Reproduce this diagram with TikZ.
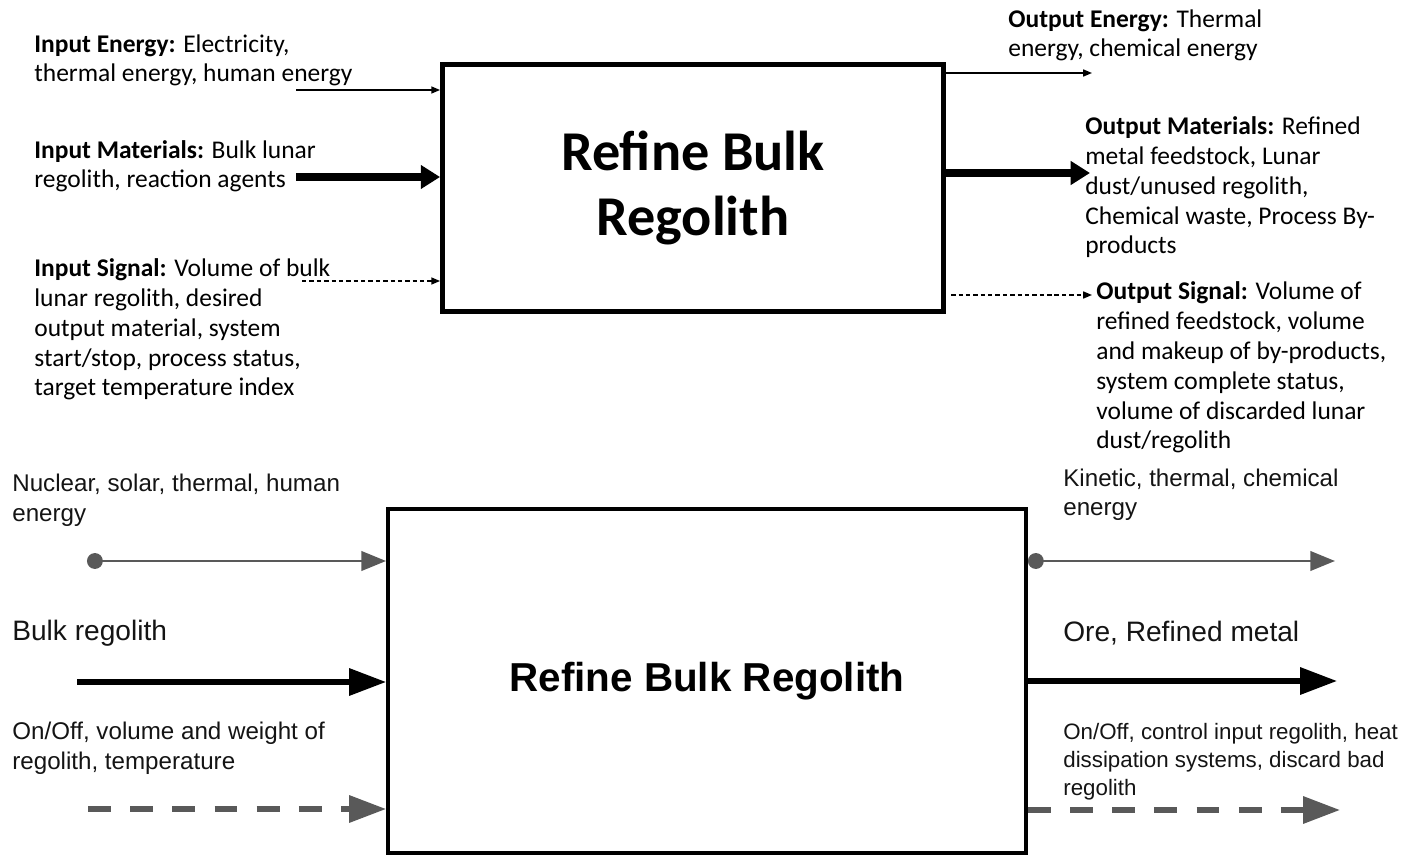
\documentclass[tikz,border=0pt]{standalone}
\usepackage{fontspec}
\setmainfont{Carlito}
\newfontfamily\arialfont{Liberation Sans}
\usepackage{tikz}
\usetikzlibrary{arrows.meta}

\begin{document}
\begin{tikzpicture}[x=0.02cm,y=-0.02cm]
	\tikzstyle{topbox}=[draw,line width=2.8pt,minimum width=10.02cm,minimum height=4.95cm,inner sep=0pt,align=center,font=\bfseries\fontsize{32}{37.5}\selectfont]
	\tikzstyle{botbox}=[draw,line width=2pt,minimum width=12.77cm,minimum height=6.89cm,inner sep=0pt,font=\arialfont\bfseries\fontsize{23}{28}\selectfont]
	\tikzstyle{toplabel}=[anchor=base west,align=left,inner sep=0pt,font=\fontsize{14.5}{17}\selectfont]
	\tikzstyle{botlabel}=[anchor=base west,align=left,inner sep=0pt,text=black!92,font=\arialfont\fontsize{13.75}{17}\selectfont]
	\tikzstyle{biglabel}=[botlabel,font=\arialfont\fontsize{16}{19}\selectfont]
	\tikzstyle{thinflow}=[line width=0.8pt,-{Triangle[length=5pt,width=4pt]}]
	\tikzstyle{thickflow}=[line width=4pt,-{Triangle[length=11pt,width=13pt]}]
	\tikzstyle{dashflow}=[thinflow,dash pattern=on 2.5pt off 1.7pt]
	\tikzstyle{grayflow}=[draw=black!65,line width=1.6pt,{Circle[length=9pt]}-{Triangle[length=14pt,width=11pt]}]
	\tikzstyle{heavyflow}=[line width=3pt,-{Triangle[length=21pt,width=15pt]}]
	\tikzstyle{graydash}=[draw=black!65,line width=3pt,dash pattern=on 13pt off 11pt,-{Triangle[length=21pt,width=15pt]}]

	\useasboundingbox (0,0) rectangle (1418,858);

	\node[topbox] (refine) at (693,188) {Refine Bulk\\Regolith};
	\node[botbox] (refinebot) at (707,681) {Refine Bulk Regolith};

	\node[toplabel] (energyin) at (34,82) {\textbf{Input Energy:} Electricity,\\thermal energy, human energy};
	\node[toplabel] (matin) at (34,188) {\textbf{Input Materials:} Bulk lunar\\regolith, reaction agents};
	\node[toplabel] (signalin) at (34,396) {\textbf{Input Signal:} Volume of bulk\\lunar regolith, desired\\output material, system\\start/stop, process status,\\target temperature index};
	\node[toplabel] (energyout) at (1008,57) {\textbf{Output Energy:} Thermal\\energy, chemical energy};
	\node[toplabel] (matout) at (1085,254) {\textbf{Output Materials:} Refined\\metal feedstock, Lunar\\dust/unused regolith,\\Chemical waste, Process By-\\products};
	\node[toplabel] (signalout) at (1096,449) {\textbf{Output Signal:} Volume of\\refined feedstock, volume\\and makeup of by-products,\\system complete status,\\volume of discarded lunar\\dust/regolith};

	\node[botlabel] (nuclear) at (12,521) {Nuclear, solar, thermal, human\\energy};
	\node[biglabel] (bulk) at (12,640) {Bulk regolith};
	\node[botlabel] (onoffin) at (12,769) {On/Off, volume and weight of\\regolith, temperature};
	\node[botlabel] (kinetic) at (1063,516) {Kinetic, thermal, chemical\\energy};
	\node[biglabel] (ore) at (1063,641) {Ore, Refined metal};
	\node[botlabel,font=\arialfont\fontsize{12.7}{15.8}\selectfont] (onoffout) at (1063,795) {On/Off, control input regolith, heat\\dissipation systems, discard bad\\regolith};

	\coordinate (e1) at (296,90);
	\coordinate (m1) at (296,177);
	\coordinate (s1) at (302,281);
	\coordinate (e2) at (1092,73);
	\coordinate (m2) at (1090,173);
	\coordinate (s2) at (1092,295);
	\draw[thinflow] (e1) -- (e1 -| refine.west);
	\draw[thickflow] (m1) -- (m1 -| refine.west);
	\draw[dashflow] (s1) -- (s1 -| refine.west);
	\draw[thinflow] (e2 -| refine.east) -- (e2);
	\draw[thickflow] (m2 -| refine.east) -- (m2);
	\draw[dashflow,shorten <=3pt] (s2 -| refine.east) -- (s2);

	\coordinate (e3) at (87,561);
	\coordinate (m3) at (77,682);
	\coordinate (s3) at (88,809);
	\coordinate (e4) at (1335,561);
	\coordinate (m4) at (1337,681);
	\coordinate (s4) at (1340,810);
	\draw[grayflow] (e3) -- (e3 -| refinebot.west);
	\draw[heavyflow] (m3) -- (m3 -| refinebot.west);
	\draw[graydash] (s3) -- (s3 -| refinebot.west);
	\draw[grayflow] (e4 -| refinebot.east) -- (e4);
	\draw[heavyflow] (m4 -| refinebot.east) -- (m4);
	\draw[graydash] (s4 -| refinebot.east) -- (s4);
\end{tikzpicture}
\end{document}
